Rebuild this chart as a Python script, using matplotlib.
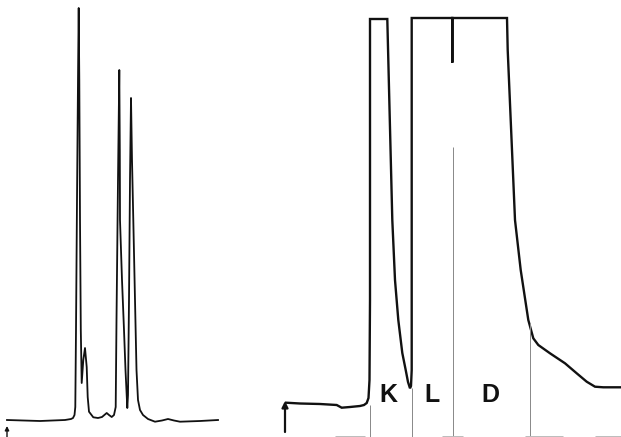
import matplotlib
matplotlib.use("Agg")
import matplotlib.pyplot as plt

# chromatogram traces (x = time position, y = depth from top of sheet)
left_x = [7, 40, 65, 71, 73, 74.5, 75.3, 76, 77, 78, 78.7, 79.3, 80, 80.8, 81.7,
          83.3, 85, 86.7, 87.7, 89, 93.3, 98, 102, 106.7, 109, 111.7, 114, 115.7,
          116.5, 118, 119.3, 119.8, 120, 122, 124, 125.5, 127.3, 128, 129, 130, 131,
          132, 133.3, 135, 136.5, 138, 140, 143, 148, 155, 162, 168, 174, 180, 200, 218]
left_y = [420, 421, 420, 419, 418, 415, 407, 330, 200, 80, 8, 80, 220, 330, 383,
          360, 348, 367, 397, 411.7, 417.3, 418, 417, 413, 415, 417, 415, 407,
          320, 180, 70, 150, 220, 280, 330, 370, 408, 395, 300, 180, 98,
          160, 220, 300, 370, 400, 410, 415, 419, 421.7, 420.5, 419, 420.5, 421.7, 421, 420]

right_x = [286, 300, 320, 336.7, 341.7, 350, 360, 364, 366.7, 368.5, 369.5, 370, 370,
           387.3, 389.3, 392.3, 395, 398.3, 402.3, 405.7, 408, 410, 411, 411.7, 411.7,
           452.3, 452.3, 452.3, 507, 507.7, 515, 520.7, 528.3, 533.3, 538.3, 550, 565,
           576.7, 586.7, 595, 603.3, 621]
right_y = [402.7, 403.5, 404, 405, 407.7, 407, 406, 405, 403, 398, 380, 300, 19,
           19, 100, 220, 280, 320, 353, 370, 382, 388.3, 386, 370, 18,
           18, 62.7, 18, 18, 50, 220, 270, 320, 338.3, 345, 353.3, 363.3,
           373.3, 381.7, 386.7, 387.3, 387.3]

# fraction cut marks
cut_x = [370, 411.5, 453, 530]
cut_top = [405, 388, 147, 323]
fraction_labels = ["K", "L", "D"]
fraction_x = [388, 432, 490]

# faint recorder scale dashes along the bottom edge
scale_start = [335, 442, 525, 595]
scale_end = [365, 463, 563, 621]

fig = plt.figure(figsize=(6.21, 4.37), dpi=100)
ax = fig.add_axes([0, 0, 1, 1])
ax.set_xlim(0, 621)
ax.set_ylim(437, 0)
ax.axis("off")

ax.plot(left_x, left_y, color="#111111", lw=1.3, solid_joinstyle="round")
ax.plot(right_x, right_y, color="#111111", lw=1.7, solid_joinstyle="miter")

ax.vlines(cut_x, cut_top, 437, color="#888888", lw=0.7)
ax.hlines([436.3] * len(scale_start), scale_start, scale_end, color="#bbbbbb", lw=0.7)

for lab, xx in zip(fraction_labels, fraction_x):
    ax.text(xx, 395, lab, fontsize=18, family="Liberation Sans", fontweight="bold",
            ha="center", va="center", color="#111111")

# injection arrows
ax.annotate("", xy=(7, 426), xytext=(7, 440),
            arrowprops=dict(arrowstyle="-|>", color="#111111", lw=1.0,
                            mutation_scale=6, shrinkA=0, shrinkB=0))
ax.annotate("", xy=(285, 401), xytext=(285, 432),
            arrowprops=dict(arrowstyle="-|>", color="#111111", lw=1.6,
                            mutation_scale=9, shrinkA=0, shrinkB=0))

plt.savefig("out.png", dpi=100)
